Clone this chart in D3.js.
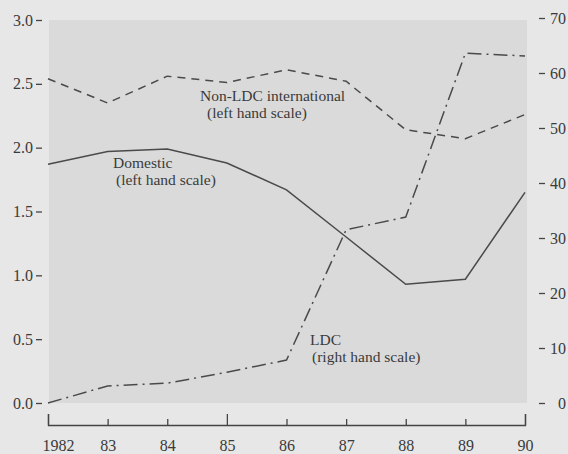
<!DOCTYPE html>
<html>
<head>
<meta charset="utf-8" />
<title>Domestic, Non-LDC and LDC</title>
<script src="https://d3js.org/d3.v7.min.js"></script>
<style type="text/css">
body { margin: 0; background: #e7e7e7; }
svg { display: block; }
text { font-family: "Liberation Serif", "DejaVu Serif", serif; fill: #3a3a3a; }
</style>
</head>
<body>
<div id="svg"></div>
<script type="text/javascript">
var years = [1982, 1983, 1984, 1985, 1986, 1987, 1988, 1989, 1990];
var domestic = [1.87, 1.97, 1.99, 1.88, 1.67, 1.30, 0.93, 0.97, 1.65];
var nonLdc = [2.54, 2.35, 2.56, 2.51, 2.61, 2.52, 2.14, 2.07, 2.26];
var ldc = [0, 3.1, 3.6, 5.6, 7.8, 31.5, 33.8, 63.6, 63.1];
var leftTicks = [0, 0.5, 1.0, 1.5, 2.0, 2.5, 3.0];
var rightTicks = [0, 10, 20, 30, 40, 50, 60, 70];

var width = 568,
    height = 454;

var svg = d3.select("#svg")
    .append("svg")
    .attr("width", width)
    .attr("height", height);

var x = d3.scaleLinear()
    .domain([1982, 1990])
    .range([48, 525]);

var yLeft = d3.scaleLinear()
    .domain([0, 3])
    .range([403, 20]);

var yRight = d3.scaleLinear()
    .domain([0, 70])
    .range([403, 18]);

// shaded plot area
svg.append("rect")
    .attr("x", 49)
    .attr("y", 20)
    .attr("width", 478)
    .attr("height", 383)
    .attr("fill", "#dadada");

// left axis
var gL = svg.append("g")
    .attr("transform", "translate(42,0)")
    .call(d3.axisLeft(yLeft).tickValues(leftTicks).tickSize(6).tickPadding(3)
        .tickFormat(d3.format(".1f")));
gL.select(".domain").remove();

// right axis
var gR = svg.append("g")
    .attr("transform", "translate(539,0)")
    .call(d3.axisRight(yRight).tickValues(rightTicks).tickSize(6).tickPadding(4));
gR.select(".domain").remove();
gR.selectAll("text").attr("text-anchor", "end").attr("x", 27);

// bottom axis, ticks pointing up
var gX = svg.append("g")
    .attr("transform", "translate(0,425)")
    .call(d3.axisBottom(x).tickValues(years).tickSizeInner(-6).tickSizeOuter(-11)
        .tickPadding(15)
        .tickFormat(d => d == 1982 ? "1982" : String(d).slice(2)));
gX.selectAll(".tick line").filter(d => d == 1982 || d == 1985 || d == 1990).attr("y2", -11);
gX.selectAll(".tick text").filter(d => d == 1982).attr("text-anchor", "start").attr("dx", -6);

svg.selectAll(".tick line, .domain").attr("stroke", "#444").attr("stroke-width", 1.3);
svg.selectAll(".tick text").attr("font-size", 16).attr("fill", "#3a3a3a")
    .style("font-family", "'Liberation Serif', serif");

// lines
var lineL = d3.line().x((d, i) => x(years[i])).y(d => yLeft(d));
var lineR = d3.line().x((d, i) => x(years[i])).y(d => yRight(d));

svg.append("path")
    .datum(domestic)
    .attr("d", lineL)
    .attr("fill", "none")
    .attr("stroke", "#4a4a4a")
    .attr("stroke-width", 1.5);

svg.append("path")
    .datum(nonLdc)
    .attr("d", lineL)
    .attr("fill", "none")
    .attr("stroke", "#4a4a4a")
    .attr("stroke-width", 1.5)
    .attr("stroke-dasharray", "8,6");

svg.append("path")
    .datum(ldc)
    .attr("d", lineR)
    .attr("fill", "none")
    .attr("stroke", "#4a4a4a")
    .attr("stroke-width", 1.5)
    .attr("stroke-dasharray", "14,5,2,5");

// annotations
function label(lines, px, py) {
    var t = svg.append("text").attr("font-size", 15.5);
    lines.forEach(function(l, i) {
        t.append("tspan").attr("x", px + l[1]).attr("y", py + i * 17).text(l[0]);
    });
}
label([["Non-LDC international", 0], ["(left hand scale)", 7]], 200, 101);
label([["Domestic", 0], ["(left hand scale)", 3]], 113, 168);
label([["LDC", 0], ["(right hand scale)", 2]], 310, 345);
</script>
</body>
</html>
